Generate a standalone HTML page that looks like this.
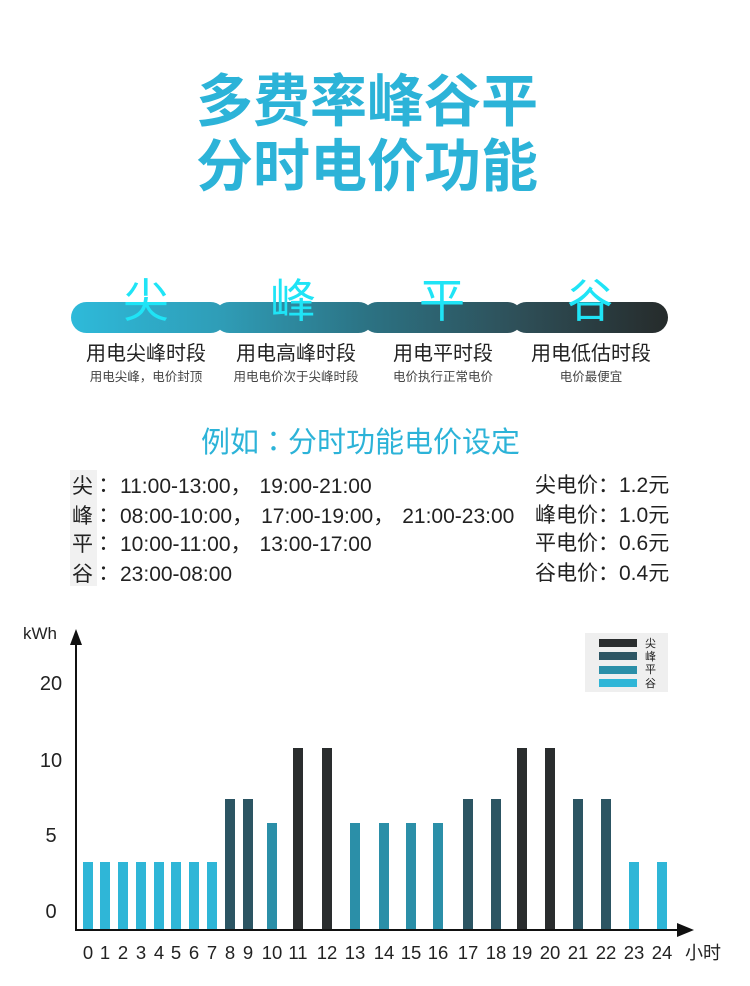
<!DOCTYPE html>
<html>
<head>
<meta charset="utf-8">
<style>
  html,body{margin:0;padding:0;background:#fff;}
  body{width:750px;height:986px;position:relative;overflow:hidden;font-family:"Liberation Sans","Noto Sans CJK SC",sans-serif;color:#222;}
  .a{position:absolute;white-space:nowrap;line-height:1;}
  .t{font-weight:700;color:#2cb3d8;font-size:57px;left:192px;width:350px;text-align:center;font-family:"Liberation Sans","Noto Sans CJK SC",sans-serif;}
  .rc{font-size:46px;color:#1fe4f6;width:100px;text-align:center;}
  .lb{font-size:20px;color:#222;width:200px;text-align:center;}
  .sb{font-size:12.5px;color:#444;width:200px;text-align:center;}
  .row{font-size:21px;color:#222;left:72px;}
  .row .c{display:inline-block;width:21px;}
  .row .cm{display:inline-block;width:29px;}
  .rt{font-size:21px;color:#222;left:535px;}
  .jp{font-family:"Noto Sans CJK JP","Noto Sans CJK SC",sans-serif;}
</style>
</head>
<body>
<div class="a t" style="top:74px;">多费率峰谷平</div>
<div class="a t" style="top:139px;">分时电价功能</div>

<svg width="750" height="986" style="position:absolute;left:0;top:0;" xmlns="http://www.w3.org/2000/svg">
  <defs>
    <linearGradient id="rg" gradientUnits="userSpaceOnUse" x1="70" y1="0" x2="668" y2="0">
      <stop offset="0" stop-color="#2ebada"/>
      <stop offset="0.25" stop-color="#2f9db7"/>
      <stop offset="0.5" stop-color="#2c7283"/>
      <stop offset="0.75" stop-color="#2e4f58"/>
      <stop offset="1" stop-color="#262b2b"/>
    </linearGradient>
  </defs>
  <g fill="url(#rg)">
    <rect x="71" y="302" width="155" height="31" rx="15.5"/>
    <rect x="214" y="302" width="160" height="31" rx="15.5"/>
    <rect x="362" y="302" width="161" height="31" rx="15.5"/>
    <rect x="511" y="302" width="157" height="31" rx="15.5"/>
  </g>

  <rect x="585" y="633" width="83" height="59" fill="#efefef"/>
  <rect x="599" y="639" width="38" height="8" fill="#2a2d2e"/>
  <rect x="599" y="652" width="38" height="8" fill="#2c5563"/>
  <rect x="599" y="666" width="38" height="8" fill="#2b8fa8"/>
  <rect x="599" y="679" width="38" height="8" fill="#2fb6d7"/>
  <g font-family="Liberation Sans, Noto Sans CJK SC, sans-serif" font-size="11" fill="#222">
    <text x="645" y="647">尖</text>
    <text x="645" y="660">峰</text>
    <text x="645" y="673">平</text>
    <text x="645" y="687">谷</text>
  </g>

  <g>
    <rect x="83" y="862" width="10" height="68" fill="#2fb6d7"/>
    <rect x="100" y="862" width="10" height="68" fill="#2fb6d7"/>
    <rect x="118" y="862" width="10" height="68" fill="#2fb6d7"/>
    <rect x="136" y="862" width="10" height="68" fill="#2fb6d7"/>
    <rect x="154" y="862" width="10" height="68" fill="#2fb6d7"/>
    <rect x="171" y="862" width="10" height="68" fill="#2fb6d7"/>
    <rect x="189" y="862" width="10" height="68" fill="#2fb6d7"/>
    <rect x="207" y="862" width="10" height="68" fill="#2fb6d7"/>
    <rect x="225" y="799" width="10" height="131" fill="#2c5563"/>
    <rect x="243" y="799" width="10" height="131" fill="#2c5563"/>
    <rect x="267" y="823" width="10" height="107" fill="#2b8fa8"/>
    <rect x="293" y="748" width="10" height="182" fill="#2a2d2e"/>
    <rect x="322" y="748" width="10" height="182" fill="#2a2d2e"/>
    <rect x="350" y="823" width="10" height="107" fill="#2b8fa8"/>
    <rect x="379" y="823" width="10" height="107" fill="#2b8fa8"/>
    <rect x="406" y="823" width="10" height="107" fill="#2b8fa8"/>
    <rect x="433" y="823" width="10" height="107" fill="#2b8fa8"/>
    <rect x="463" y="799" width="10" height="131" fill="#2c5563"/>
    <rect x="491" y="799" width="10" height="131" fill="#2c5563"/>
    <rect x="517" y="748" width="10" height="182" fill="#2a2d2e"/>
    <rect x="545" y="748" width="10" height="182" fill="#2a2d2e"/>
    <rect x="573" y="799" width="10" height="131" fill="#2c5563"/>
    <rect x="601" y="799" width="10" height="131" fill="#2c5563"/>
    <rect x="629" y="862" width="10" height="68" fill="#2fb6d7"/>
    <rect x="657" y="862" width="10" height="68" fill="#2fb6d7"/>
  </g>

  <line x1="76" y1="642" x2="76" y2="931" stroke="#111" stroke-width="2"/>
  <polygon points="76,629 70,645 82,645" fill="#111"/>
  <line x1="75" y1="930" x2="680" y2="930" stroke="#111" stroke-width="2"/>
  <polygon points="694,930 677,923 677,937" fill="#111"/>

  <g font-family="Liberation Sans, Noto Sans CJK SC, sans-serif" fill="#222">
    <text x="23" y="639" font-size="17">kWh</text>
    <g font-size="20" text-anchor="middle">
      <text x="51" y="690">20</text>
      <text x="51" y="767">10</text>
      <text x="51" y="842">5</text>
      <text x="51" y="918">0</text>
    </g>
    <g font-size="18.5" text-anchor="middle">
      <text x="88" y="959">0</text>
      <text x="105" y="959">1</text>
      <text x="123" y="959">2</text>
      <text x="141" y="959">3</text>
      <text x="159" y="959">4</text>
      <text x="176" y="959">5</text>
      <text x="194" y="959">6</text>
      <text x="212" y="959">7</text>
      <text x="230" y="959">8</text>
      <text x="248" y="959">9</text>
      <text x="272" y="959">10</text>
      <text x="298" y="959">11</text>
      <text x="327" y="959">12</text>
      <text x="355" y="959">13</text>
      <text x="384" y="959">14</text>
      <text x="411" y="959">15</text>
      <text x="438" y="959">16</text>
      <text x="468" y="959">17</text>
      <text x="496" y="959">18</text>
      <text x="522" y="959">19</text>
      <text x="550" y="959">20</text>
      <text x="578" y="959">21</text>
      <text x="606" y="959">22</text>
      <text x="634" y="959">23</text>
      <text x="662" y="959">24</text>
    </g>
    <text x="685" y="959" font-size="18">小时</text>
  </g>
</svg>

<div class="a rc" style="left:96px;top:278px;">尖</div>
<div class="a rc" style="left:243px;top:278px;">峰</div>
<div class="a rc" style="left:392px;top:278px;">平</div>
<div class="a rc" style="left:540px;top:278px;">谷</div>

<div class="a lb" style="left:46px;top:344px;">用电尖峰时段</div>
<div class="a lb" style="left:196px;top:344px;">用电高峰时段</div>
<div class="a lb" style="left:343px;top:344px;">用电平时段</div>
<div class="a lb" style="left:491px;top:344px;">用电低估时段</div>

<div class="a sb" style="left:46px;top:371px;">用电尖峰，电价封顶</div>
<div class="a sb" style="left:196px;top:371px;">用电电价次于尖峰时段</div>
<div class="a sb" style="left:343px;top:371px;">电价执行正常电价</div>
<div class="a sb" style="left:491px;top:371px;">电价最便宜</div>

<div class="a" style="left:201px;top:426px;font-size:29px;color:#2cb3d8;">例如<span class="jp">：</span>分时功能电价设定</div>

<div class="a" style="left:70px;top:470px;width:27px;height:116px;background:#f1f1f1;"></div>

<div class="a row" style="top:475px;"><span class="c">尖</span><span class="c jp">：</span><span style="margin-left:6px">11:00-13:00</span><span class="cm">，</span>19:00-21:00</div>
<div class="a row" style="top:505px;"><span class="c">峰</span><span class="c jp">：</span><span style="margin-left:6px">08:00-10:00</span><span class="cm">，</span>17:00-19:00<span class="cm">，</span>21:00-23:00</div>
<div class="a row" style="top:533px;"><span class="c">平</span><span class="c jp">：</span><span style="margin-left:6px">10:00-11:00</span><span class="cm">，</span>13:00-17:00</div>
<div class="a row" style="top:563px;"><span class="c">谷</span><span class="c jp">：</span><span style="margin-left:6px">23:00-08:00</span></div>

<div class="a rt" style="top:475px;">尖电价：1.2元</div>
<div class="a rt" style="top:505px;">峰电价：1.0元</div>
<div class="a rt" style="top:533px;">平电价：0.6元</div>
<div class="a rt" style="top:563px;">谷电价：0.4元</div>
</body>
</html>
